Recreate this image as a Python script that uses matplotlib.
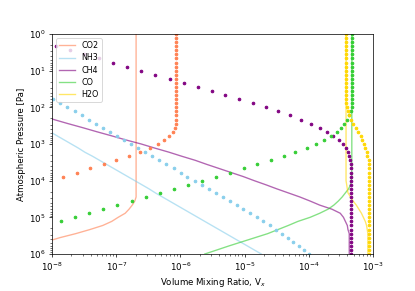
import numpy as np
import matplotlib
matplotlib.use("Agg")
import matplotlib.pyplot as plt

plt.rcParams["font.size"] = 9.5

# model pressure grid [Pa], top of atmosphere to bottom
pressure = np.logspace(0, 6, 55)

nan = np.nan

# log10 of volume mixing ratio per level
# "true" input profiles (dotted)
co2_true = [-6.07, -6.07, -6.07, -6.07, -6.07, -6.07, -6.07, -6.07, -6.07, -6.07, -6.07,
            -6.07, -6.07, -6.07, -6.07, -6.07, -6.07, -6.07, -6.07, -6.07, -6.07, -6.07,
            -6.07, -6.09, -6.12, -6.18, -6.26, -6.35, -6.47, -6.63, -6.80, -7.00, -7.19,
            -7.41, -7.61, -7.83, nan, nan, nan, nan, nan, nan, nan, nan, nan, nan, nan,
            nan, nan, nan, nan, nan, nan, nan, nan]
nh3_true = [nan, nan, nan, nan, nan, nan, nan, nan, nan, nan, nan, nan, nan, nan, nan, nan,
            -7.98, -7.88, -7.77, -7.64, -7.53, -7.42, -7.31, -7.21, -7.10, -6.99, -6.88,
            -6.77, -6.66, -6.55, -6.44, -6.33, -6.22, -6.10, -5.99, -5.90, -5.77, -5.66,
            -5.55, -5.45, -5.34, -5.23, -5.12, -5.02, -4.92, -4.81, -4.71, -4.60, -4.51,
            -4.42, -4.32, -4.25, -4.15, -4.07, -4.00]
ch4_true = [nan, nan, nan, -7.94, -7.72, -7.50, -7.27, -7.05, -6.83, -6.61, -6.40, -6.16,
            -5.94, -5.73, -5.51, -5.31, -5.09, -4.87, -4.67, -4.48, -4.29, -4.12, -3.97,
            -3.83, -3.72, -3.62, -3.53, -3.47, -3.42, -3.39, -3.37, -3.36, -3.34, -3.34,
            -3.34, -3.34, -3.34, -3.34, -3.34, -3.34, -3.34, -3.34, -3.34, -3.34, -3.34,
            -3.34, -3.34, -3.34, -3.34, -3.34, -3.34, -3.34, -3.34, -3.34, -3.34]
co_true = [-3.33, -3.33, -3.33, -3.33, -3.33, -3.33, -3.33, -3.33, -3.33, -3.33, -3.33,
           -3.33, -3.33, -3.33, -3.33, -3.33, -3.33, -3.33, -3.33, -3.34, -3.37, -3.40,
           -3.45, -3.50, -3.56, -3.65, -3.76, -3.89, -4.03, -4.21, -4.39, -4.59, -4.81,
           -5.01, -5.23, -5.45, -5.66, -5.88, -6.10, -6.32, -6.54, -6.75, -6.99, -7.21,
           -7.42, -7.64, -7.86, nan, nan, nan, nan, nan, nan, nan, nan]
h2o_true = [-3.42, -3.42, -3.42, -3.42, -3.42, -3.42, -3.42, -3.42, -3.42, -3.42, -3.42,
            -3.42, -3.42, -3.42, -3.42, -3.42, -3.42, -3.42, -3.40, -3.39, -3.37, -3.34,
            -3.31, -3.27, -3.23, -3.19, -3.17, -3.14, -3.12, -3.10, -3.09, -3.07, -3.06,
            -3.06, -3.06, -3.06, -3.06, -3.06, -3.06, -3.06, -3.06, -3.06, -3.06, -3.06,
            -3.06, -3.06, -3.06, -3.06, -3.06, -3.06, -3.06, -3.06, -3.06, -3.06, -3.06]

# retrieved profiles (solid)
co2_fit = [-6.69, -6.69, -6.69, -6.69, -6.69, -6.69, -6.69, -6.69, -6.69, -6.69, -6.69,
           -6.69, -6.69, -6.69, -6.69, -6.69, -6.69, -6.69, -6.69, -6.69, -6.69, -6.69,
           -6.69, -6.69, -6.69, -6.69, -6.69, -6.69, -6.69, -6.69, -6.69, -6.69, -6.69,
           -6.69, -6.69, -6.69, -6.69, -6.69, -6.69, -6.69, -6.69, -6.71, -6.75, -6.80,
           -6.86, -6.97, -7.07, -7.21, -7.41, -7.63, -7.88, -8.09, -8.30, -8.50, -8.70]
nh3_fit = [nan, nan, nan, nan, nan, nan, nan, nan, nan, nan, nan, nan, nan, nan, nan, nan,
           nan, nan, nan, nan, nan, nan, nan, -8.14, -8.03, -7.92, -7.81, -7.70, -7.59,
           -7.49, -7.37, -7.26, -7.15, -7.04, -6.93, -6.82, -6.71, -6.60, -6.49, -6.39,
           -6.28, -6.17, -6.06, -5.95, -5.84, -5.73, -5.62, -5.51, -5.40, -5.29, -5.18,
           -5.07, -4.96, -4.85, -4.74]
ch4_fit = [nan, nan, nan, nan, nan, nan, nan, nan, nan, nan, nan, nan, nan, nan, nan, nan,
           nan, nan, nan, nan, -8.19, -7.97, -7.75, -7.52, -7.30, -7.07, -6.85, -6.61,
           -6.40, -6.18, -5.98, -5.77, -5.59, -5.40, -5.21, -5.02, -4.85, -4.67, -4.50,
           -4.32, -4.14, -3.98, -3.83, -3.64, -3.51, -3.46, -3.43, -3.40, -3.39, -3.37,
           -3.37, -3.37, -3.37, -3.37, -3.37]
co_fit = [-3.33, -3.33, -3.33, -3.33, -3.33, -3.33, -3.33, -3.33, -3.33, -3.33, -3.33,
          -3.33, -3.33, -3.33, -3.33, -3.33, -3.33, -3.33, -3.33, -3.33, -3.33, -3.33,
          -3.33, -3.33, -3.33, -3.33, -3.33, -3.33, -3.33, -3.33, -3.33, -3.33, -3.33,
          -3.33, -3.33, -3.33, -3.34, -3.35, -3.38, -3.43, -3.48, -3.54, -3.61, -3.70,
          -3.83, -3.98, -4.17, -4.32, -4.48, -4.64, -4.84, -5.04, -5.24, -5.43, -5.62]
h2o_fit = [-3.42, -3.42, -3.42, -3.42, -3.42, -3.42, -3.42, -3.42, -3.42, -3.42, -3.42,
           -3.42, -3.42, -3.42, -3.42, -3.42, -3.42, -3.42, -3.42, -3.42, -3.42, -3.42,
           -3.42, -3.42, -3.42, -3.42, -3.42, -3.42, -3.42, -3.42, -3.42, -3.42, -3.42,
           -3.42, -3.42, -3.42, -3.42, -3.41, -3.40, -3.39, -3.35, -3.31, -3.26, -3.22,
           -3.18, -3.15, -3.12, -3.10, -3.09, -3.08, -3.08, -3.08, -3.08, -3.08, -3.08]

molecules = ["CO2", "NH3", "CH4", "CO", "H2O"]
colors = ["coral", "skyblue", "purple", "limegreen", "gold"]
true_profiles = [co2_true, nh3_true, ch4_true, co_true, h2o_true]
fit_profiles = [co2_fit, nh3_fit, ch4_fit, co_fit, h2o_fit]

fig = plt.figure(figsize=(415 / 65, 291 / 65), dpi=65)
ax = fig.add_axes([52 / 415, 1 - 254 / 291, (373 - 52) / 415, (254 - 34) / 291])

# retrieved profiles as lines, true profiles as dots on top
for name, col, fit in zip(molecules, colors, fit_profiles):
    ax.plot(10 ** np.array(fit), pressure, "-", color=col, alpha=0.6, label=name)

for col, true in zip(colors, true_profiles):
    ax.plot(10 ** np.array(true), pressure, ".", color=col)

ax.set_xscale("log")
ax.set_yscale("log")
ax.set_xlim(1e-8, 1e-3)
ax.set_ylim(1e6, 1)
ax.set_xlabel("Volume Mixing Ratio, V$_x$")
ax.set_ylabel("Atmospheric Pressure [Pa]")
ax.legend(loc="upper left", fontsize=8.8, labelspacing=0.4)

fig.savefig("out.png", dpi=65)
